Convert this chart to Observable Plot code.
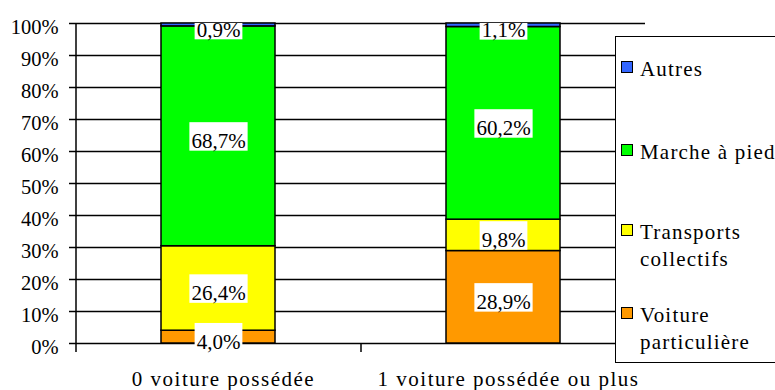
<!DOCTYPE html>
<html><head><meta charset="utf-8">
<script src="https://cdn.jsdelivr.net/npm/d3@7"></script>
<script src="https://cdn.jsdelivr.net/npm/@observablehq/plot@0.6"></script>
<style>
html,body{margin:0;padding:0;background:#fff;overflow:hidden;}
#wrap{position:relative;width:775px;height:390px;overflow:hidden;font-family:"Liberation Serif",serif;background:#fff;}
#legend{position:absolute;left:615px;top:36px;width:220px;height:327px;border:1.5px solid #000;background:#fff;box-sizing:border-box;}
.item{position:absolute;left:640px;width:150px;font-size:21px;letter-spacing:1.2px;line-height:27px;color:#000;white-space:normal;}
.sw{position:absolute;left:-19px;top:5px;width:12px;height:12px;border:1px solid #000;box-sizing:border-box;}
</style></head>
<body><div id="wrap"></div>
<script>
// ---- data ----
const categories = ["0 voiture possédée", "1 voiture possédée ou plus"];
const modes = ["Voiture particulière", "Transports collectifs", "Marche à pied", "Autres"];
const modeColors = ["#FF9900", "#FFFF00", "#00FF00", "#3366FF"];
const valuesNoCar = [4.0, 26.4, 68.7, 0.9];
const valuesCar = [28.9, 9.8, 60.2, 1.1];
const yTicks = [0, 10, 20, 30, 40, 50, 60, 70, 80, 90, 100];

const seriesByCategory = [valuesNoCar, valuesCar];
const rows = [];
categories.forEach((c, ci) => modes.forEach((m, mi) => rows.push({category: c, mode: m, value: seriesByCategory[ci][mi]})));
const fmt = v => v.toFixed(1).replace(".", ",") + "%";

const W = 775, H = 390, ML = 75, MR = 130, MT = 23, MB = 47;
const step = (W - ML - MR) / categories.length;
const font = '"Liberation Serif", serif';

const svg = Plot.plot({
  width: W, height: H,
  marginLeft: ML, marginRight: MR, marginTop: MT, marginBottom: MB,
  style: {fontFamily: font, fontSize: "21px", background: "#fff", color: "#000"},
  x: {domain: categories, paddingInner: 0.6, paddingOuter: 0.3, label: null},
  y: {domain: [0, 100], label: null},
  color: {domain: modes, range: modeColors},
  marks: [
    Plot.ruleY(yTicks, {stroke: "#000", strokeWidth: 1.5}),
    Plot.barY(rows, {x: "category", y: "value", fill: "mode", stroke: "#000", strokeWidth: 1.5}),
    Plot.ruleX([categories[0]], {dx: -step / 2, stroke: "#000", strokeWidth: 1.5, insetBottom: -9}),
    Plot.ruleX(categories, {dx: step / 2, y1: () => 0, y2: () => 0, insetBottom: -9, stroke: "#000", strokeWidth: 1.5}),
    Plot.axisY({ticks: yTicks, tickSize: 6, fill: "none", strokeWidth: 1.5, label: null}),
    Plot.axisY({ticks: yTicks, tickSize: 0, tickPadding: 17, dy: 4, tickFormat: d => d + "%", fontSize: 20.5, label: null}),
    Plot.axisX({tickSize: 0, tickPadding: 27.5, dx: 5, fontSize: 21, label: null}),
    Plot.text(rows, Plot.stackY({x: "category", y: "value", z: "mode", text: d => fmt(d.value), dy: 5, fontSize: 21, fill: "#000"}))
  ]
});

const wrap = document.getElementById("wrap");
wrap.appendChild(svg);

const xLabels = svg.querySelector('g[aria-label="x-axis tick label"]');
if (xLabels) xLabels.style.letterSpacing = "1.5px";

// white label boxes behind the segment labels
const ns = "http://www.w3.org/2000/svg";
const labelG = [...svg.querySelectorAll('g[aria-label="text"]')].pop();
if (labelG) {
  const bg = document.createElementNS(ns, "g");
  labelG.parentNode.insertBefore(bg, labelG);
  const sr = svg.getBoundingClientRect();
  for (const t of labelG.querySelectorAll("text")) {
    const r = t.getBoundingClientRect();
    const cx = r.left - sr.left + r.width / 2;
    const cy = r.top - sr.top + r.height / 2 - 4.6;
    const y0 = Math.max(cy - 14.25, MT), y1 = cy + 14.25;
    const rect = document.createElementNS(ns, "rect");
    rect.setAttribute("x", cx - r.width / 2 - 2);
    rect.setAttribute("width", r.width + 4);
    rect.setAttribute("y", y0);
    rect.setAttribute("height", y1 - y0);
    rect.setAttribute("fill", "#fff");
    bg.appendChild(rect);
  }
}

// legend
const legend = document.createElement("div");
legend.id = "legend";
wrap.appendChild(legend);
const legendTops = [56, 139, 219, 302];
modes.slice().reverse().forEach((m, i) => {
  const item = document.createElement("div");
  item.className = "item";
  item.style.top = legendTops[i] + "px";
  const sw = document.createElement("div");
  sw.className = "sw";
  sw.style.background = modeColors[modes.indexOf(m)];
  item.appendChild(sw);
  item.appendChild(document.createTextNode(m));
  wrap.appendChild(item);
});
</script>
</body></html>
